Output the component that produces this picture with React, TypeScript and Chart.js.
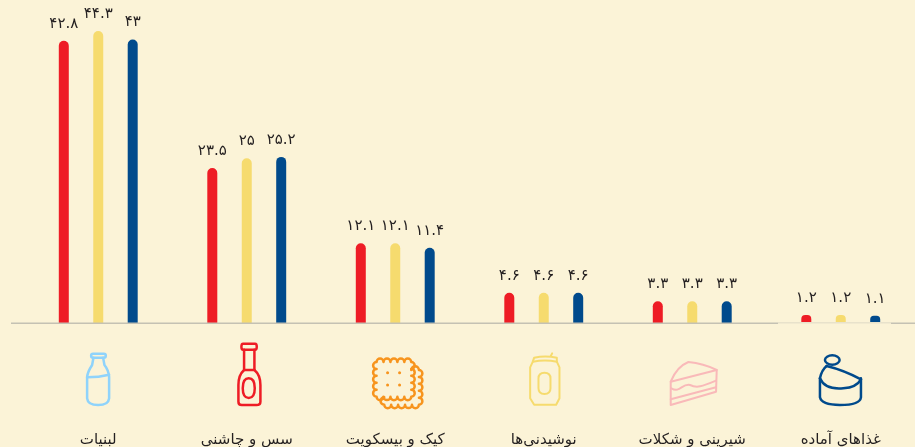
import React, { useEffect, useRef } from "react";
import { Chart, registerables } from "chart.js";

Chart.register(...registerables);

const categories = ["لبنیات", "سس و چاشنی", "کیک و بیسکویت", "نوشیدنی‌ها", "شیرینی و شکلات", "غذاهای آماده"];
const seriesRed = [42.8, 23.5, 12.1, 4.6, 3.3, 1.2];
const seriesYellow = [44.3, 25, 12.1, 4.6, 3.3, 1.2];
const seriesBlue = [43, 25.2, 11.4, 4.6, 3.3, 1.1];
const seriesColors = ["#EE1C25", "#F6DB6E", "#004A8C"];
const BG = "#FBF3D7";
const FONT = '"DejaVu Sans", sans-serif';

const toFa = (v: number) => String(v).replace(/\d/g, (d) => "۰۱۲۳۴۵۶۷۸۹"[+d]);

type Icon = { cx: number; color: string; width: number; paths: string[]; dots?: number[][] };

// scalloped outline: a run of outward bumps between two points
const bumps = (x0: number, y0: number, x1: number, y1: number, n: number) => {
  const dx = (x1 - x0) / n;
  const dy = (y1 - y0) / n;
  const r = Math.hypot(dx, dy) / 2;
  let d = "";
  for (let i = 1; i <= n; i++) d += ` A${r} ${r} 0 0 1 ${x0 + dx * i} ${y0 + dy * i}`;
  return d;
};
const scallop = (x0: number, y0: number, x1: number, y1: number, n: number) =>
  `M${x0} ${y0}` +
  bumps(x0, y0, x1, y0, n) +
  bumps(x1, y0, x1, y1, n) +
  bumps(x1, y1, x0, y1, n) +
  bumps(x0, y1, x0, y0, n) +
  " Z";

// Icon outlines in units of 1/3 px, measured from y = 310
const icons: Icon[] = [
  {
    cx: 293.4, color: "#8FD3FB", width: 7.5,
    paths: [
      "M278 131 H310 Q316 131 316 137 Q316 143 310 143 H278 Q272 143 272 137 Q272 131 278 131 Z",
      "M279 143 L275 165 Q262 185 260 200 L260 265 Q262 285 293 285 Q324 285 326 265 L326 200 Q324 180 312 165 L308 143",
      "M260 202 Q295 202 326 194",
    ],
  },
  {
    cx: 739, color: "#EE1C25", width: 7.5,
    paths: [
      "M728 101 H764 Q769 101 769 110 Q769 119 764 119 H728 Q723 119 723 110 Q723 101 728 101 Z",
      "M731 119 V180 Q714 195 714 225 L714 275 Q714 285 724 285 H768 Q780 285 780 275 L780 225 Q780 195 762 180 V119",
      "M731 180 H762",
      "M745 205 Q763 205 763 235 Q763 264 745 264 Q727 264 727 235 Q727 205 745 205 Z",
    ],
  },
  {
    cx: 1185, color: "#F7941D", width: 7.5,
    paths: [
      scallop(1129, 156, 1233, 260, 5),
      "M1233 180" + bumps(1233, 180, 1256, 180, 1) + bumps(1256, 180, 1256, 284, 5) + bumps(1256, 284, 1152, 284, 5) + bumps(1152, 284, 1152, 262, 1),
    ],
    dots: [[1162, 188], [1198, 188], [1162, 225], [1198, 225]],
  },
  {
    cx: 250.8, color: "#F6DB6E", width: 6,
    paths: [
      "M222 143 Q255 136 290 143 L290 155 L298 172 L298 265 L288 284 H222 L210 265 L210 172 L218 155 Z",
      "M218 155 Q255 148 290 155",
      "M235 205 Q235 188 253 188 Q271 188 271 205 L271 235 Q271 252 253 252 Q235 252 235 235 Z",
      "M272 138 L276 130",
    ],
  },
  {
    cx: 696.6, color: "#F9B9B9", width: 6,
    paths: [
      "M632 215 Q650 170 685 156 Q730 160 770 180 L768 245 L632 285 Z",
      "M632 215 L770 180",
      "M634 235 C660 250 665 220 690 225 C710 235 725 230 768 212",
      "M632 268 L768 232",
    ],
  },
  {
    cx: 1142.4, color: "#004A8C", width: 7.5,
    paths: [
      "M1080 205 V262 Q1085 285 1140 285 Q1200 285 1203 262 V205",
      "M1080 205 Q1095 240 1150 235 Q1190 232 1203 208",
      "M1080 205 Q1085 180 1100 168",
      "M1100 168 Q1150 180 1203 208",
      "M1095 150 A22 14 0 1 1 1139 150 A22 14 0 1 1 1095 150",
    ],
  },
];

const drawExtras = {
  id: "extras",
  beforeDraw(chart: any) {
    const { ctx, width, height } = chart;
    ctx.save();
    ctx.fillStyle = BG;
    ctx.fillRect(0, 0, width, height);
    ctx.restore();
  },
  afterDatasetsDraw(chart: any) {
    const { ctx, scales } = chart;
    const y0 = scales.y.getPixelForValue(0);
    // baseline, with its pale stretch under the last group
    ctx.save();
    ctx.fillStyle = "#C4C1B3";
    ctx.fillRect(11, y0 - 0.5, 767, 1.5);
    ctx.fillRect(891, y0 - 0.5, 24, 1.5);
    ctx.fillStyle = "#E8E2CB";
    ctx.fillRect(778, y0 - 1, 113, 1.5);
    ctx.restore();

    // value labels
    ctx.save();
    ctx.font = `15px ${FONT}`;
    ctx.fillStyle = "#231F20";
    ctx.textAlign = "center";
    ctx.textBaseline = "middle";
    chart.data.datasets.forEach((ds: any, i: number) => {
      chart.getDatasetMeta(i).data.forEach((bar: any, j: number) => {
        ctx.fillText(toFa(ds.data[j]), bar.x, bar.y - 17);
      });
    });
    ctx.restore();

    // category icons
    icons.forEach((icon, i) => {
      const x = scales.x.getPixelForValue(i);
      ctx.save();
      ctx.translate(x, 310);
      ctx.scale(1 / 3, 1 / 3);
      ctx.translate(-icon.cx, 0);
      ctx.strokeStyle = icon.color;
      ctx.lineWidth = icon.width;
      ctx.lineJoin = "round";
      ctx.lineCap = "round";
      icon.paths.forEach((p) => ctx.stroke(new Path2D(p)));
      ctx.fillStyle = icon.color;
      (icon.dots || []).forEach(([dx, dy]) => {
        ctx.beginPath();
        ctx.arc(dx, dy, 4.5, 0, Math.PI * 2);
        ctx.fill();
      });
      ctx.restore();
    });
  },
};

export default function App() {
  const ref = useRef<HTMLCanvasElement>(null);
  useEffect(() => {
    document.body.style.margin = "0";
    document.body.style.background = BG;
    const chart = new Chart(ref.current!, {
      type: "bar",
      data: {
        labels: categories,
        datasets: [seriesRed, seriesYellow, seriesBlue].map((data, i) => ({
          data,
          backgroundColor: seriesColors[i],
          borderRadius: { topLeft: 5, topRight: 5, bottomLeft: 0, bottomRight: 0 },
          borderSkipped: false,
          categoryPercentage: 0.696,
          barPercentage: 0.29,
        })),
      },
      options: {
        responsive: false,
        animation: false,
        layout: { padding: { left: 24, right: 0, top: 0, bottom: 0 } },
        plugins: { legend: { display: false }, tooltip: { enabled: false } },
        scales: {
          y: { display: false, min: 0, max: 49 },
          x: {
            grid: { display: false },
            border: { display: false },
            afterFit(scale: any) {
              scale.height = 124;
              scale.paddingLeft = 0;
              scale.paddingRight = 0;
            },
            ticks: {
              autoSkip: false,
              maxRotation: 0,
              padding: 100,
              color: "#231F20",
              font: { family: FONT, size: 15 },
            },
          },
        },
      },
      plugins: [drawExtras],
    } as any);
    return () => chart.destroy();
  }, []);
  return <canvas ref={ref} width={915} height={447} style={{ display: "block" }} />;
}
